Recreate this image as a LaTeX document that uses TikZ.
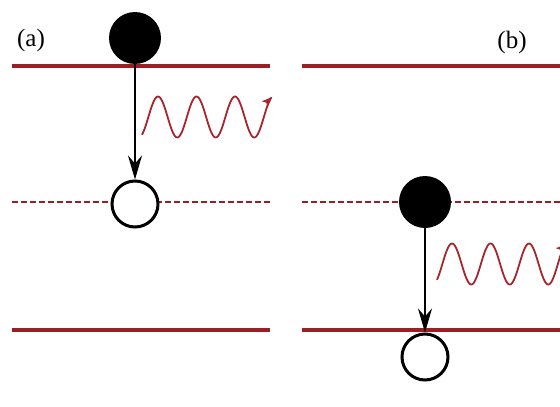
\documentclass[tikz,border=0pt]{standalone}
\usepackage{fontspec}
\setmainfont{Liberation Serif}
\usetikzlibrary{arrows.meta}
\definecolor{lvl}{RGB}{155,30,36}
\definecolor{wavecol}{RGB}{165,38,44}
\tikzset{
  level/.style={draw=lvl, line width=3.8pt},
  dlevel/.style={draw=lvl, line width=2.2pt, dash pattern=on 5.5pt off 3.5pt},
  electron/.style={circle, fill=black, minimum size=52pt, inner sep=0pt},
  hole/.style={circle, draw=black, fill=white, line width=3pt, minimum size=46pt, inner sep=0pt},
  transition/.style={draw=black, line width=2.2pt, -{Stealth[length=24pt,width=14pt,inset=8pt]}},
  photon/.style={draw=wavecol, line width=1.8pt, -{Stealth[length=10pt,width=8pt,inset=2pt]}},
  lab/.style={font=\fontsize{25}{29}\selectfont, inner sep=0pt}
}
\begin{document}
\begin{tikzpicture}[x=1pt,y=-1pt]
\useasboundingbox (0,0) rectangle (560,407);
\clip (0,0) rectangle (560,407);
% labels
\node[lab] (la) at (31,40) {(a)};
\node[lab] (lb) at (512,42) {(b)};
% panel (a) levels
\draw[level] (12,66) -- (270,66);
\draw[dlevel] (12,202) -- (270,202);
\draw[level] (12,330) -- (270,330);
% panel (b) levels
\draw[level] (302,66) -- (560,66);
\draw[dlevel] (302,202) -- (560,202);
\draw[level] (302,330) -- (560,330);
% panel (a)
\node[electron] (ea) at (135,38) {};
\node[hole] (ha) at (135,204) {};
\draw[transition] (ea.south) -- (ha.north);
\draw[photon] plot[domain=142:272, samples=130, smooth] (\x, {117-20.5*cos(9.3506*(\x-158))});
% panel (b)
\node[electron] (eb) at (425,202) {};
\node[hole] (hb) at (425,357) {};
\draw[transition] (eb.south) -- (hb.north);
\draw[photon] plot[domain=437:566, samples=130, smooth] (\x, {264-20.5*cos(9.3506*(\x-452))});
\end{tikzpicture}
\end{document}
